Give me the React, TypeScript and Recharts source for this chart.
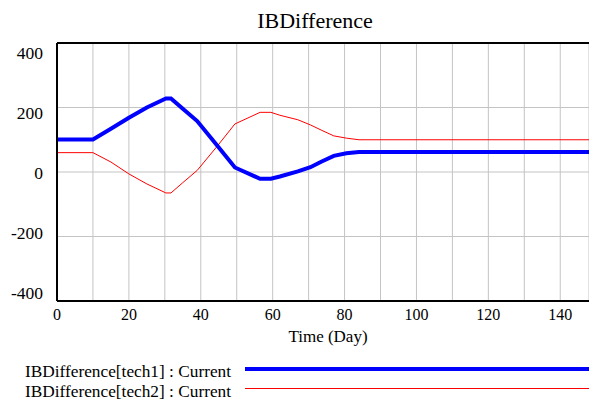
import React from 'react';
import { LineChart, Line, XAxis, YAxis, CartesianGrid, ReferenceLine, Text } from 'recharts';

const FONT = "Liberation Serif";

const chartTitle = 'IBDifference';
const xAxisTitle = 'Time (Day)';
const times = [0, 10, 15, 20, 25, 30.3, 31.7, 35, 39, 44.5, 49.5, 56.5, 59.5, 62, 67, 70.5, 73.5, 77, 80.5, 84, 148];
const tech1 = [101, 101, 134, 168, 200, 228, 228, 196, 158, 83, 14, -21, -21, -14, 2, 15, 32, 50, 58, 62, 62];
const tech2 = [60, 60, 31, -6, -37, -65, -65, -33, 5, 79, 149, 185, 185, 176, 162, 146, 130, 112, 105, 100, 100];
const xTicks = [0, 10, 20, 30, 40, 50, 60, 70, 80, 90, 100, 110, 120, 130, 140];
const xLabelTicks = [0, 20, 40, 60, 80, 100, 120, 140];
const yTicks = [-400, -200, 0, 200, 400];
const seriesNames = ['IBDifference[tech1] : Current', 'IBDifference[tech2] : Current'];
const seriesColors = ['#0000ff', '#ff0000'];
const seriesWidths = [4, 1];

const data = times.map((t, i) => ({ t, tech1: tech1[i], tech2: tech2[i] }));

const renderYTick = (props: any) => {
  const { y, payload } = props;
  const dy = 1 + payload.value * 0.0225;
  return (
    <Text x={43} y={y + dy} textAnchor="end" verticalAnchor="middle" fill="#000" fontFamily={FONT} fontSize={17.5}>
      {String(payload.value)}
    </Text>
  );
};

export default function App() {
  return (
    <div style={{ position: 'absolute', left: 0, top: 0, width: 589, height: 400, background: '#fff', overflow: 'hidden', fontFamily: FONT }}>
      <svg width={589} height={400} style={{ position: 'absolute', left: 0, top: 0 }}>
        <text x={315} y={20} textAnchor="middle" dominantBaseline="central" fill="#000" style={{ fontFamily: FONT, fontSize: 22 }}>
          {chartTitle}
        </text>
        <text x={328} y={336} textAnchor="middle" dominantBaseline="central" fill="#000" style={{ fontFamily: FONT, fontSize: 17 }}>
          {xAxisTitle}
        </text>
        {seriesNames.map((name, i) => (
          <g key={name}>
            <text x={25} y={371 + i * 20} dominantBaseline="central" fill="#000" style={{ fontFamily: FONT, fontSize: 17.3 }}>
              {name}
            </text>
            <line x1={245} x2={589} y1={369 + i * 19.5} y2={369 + i * 19.5} stroke={seriesColors[i]} strokeWidth={seriesWidths[i]} />
          </g>
        ))}
      </svg>
      <div style={{ position: 'absolute', left: 0, top: 0 }}>
        <LineChart width={589} height={400} data={data} margin={{ top: 43, right: 0, left: 0, bottom: 54 }} style={{ fontFamily: FONT }}>
          <CartesianGrid stroke="#c4c4c4" strokeWidth={1} fill="none" />
          <XAxis
            dataKey="t"
            type="number"
            domain={[0, 148]}
            ticks={xTicks}
            interval={0}
            height={45}
            tickLine={false}
            tickSize={0}
            tickMargin={8}
            tickFormatter={(v: number) => (xLabelTicks.includes(v) ? String(v) : '')}
            axisLine={{ stroke: '#000', strokeWidth: 2 }}
            tick={{ fill: '#000', fontFamily: FONT, fontSize: 16 }}
            allowDataOverflow
          />
          <YAxis
            type="number"
            domain={[-400, 400]}
            ticks={yTicks}
            interval={0}
            width={57}
            tickLine={false}
            axisLine={{ stroke: '#000', strokeWidth: 2 }}
            tick={renderYTick}
            allowDataOverflow
          />
          <ReferenceLine y={400} stroke="#000" strokeWidth={2} />
          <Line type="linear" dataKey="tech2" stroke={seriesColors[1]} strokeWidth={seriesWidths[1]} dot={false} isAnimationActive={false} />
          <Line type="linear" dataKey="tech1" stroke={seriesColors[0]} strokeWidth={seriesWidths[0]} dot={false} isAnimationActive={false} />
        </LineChart>
      </div>
    </div>
  );
}
